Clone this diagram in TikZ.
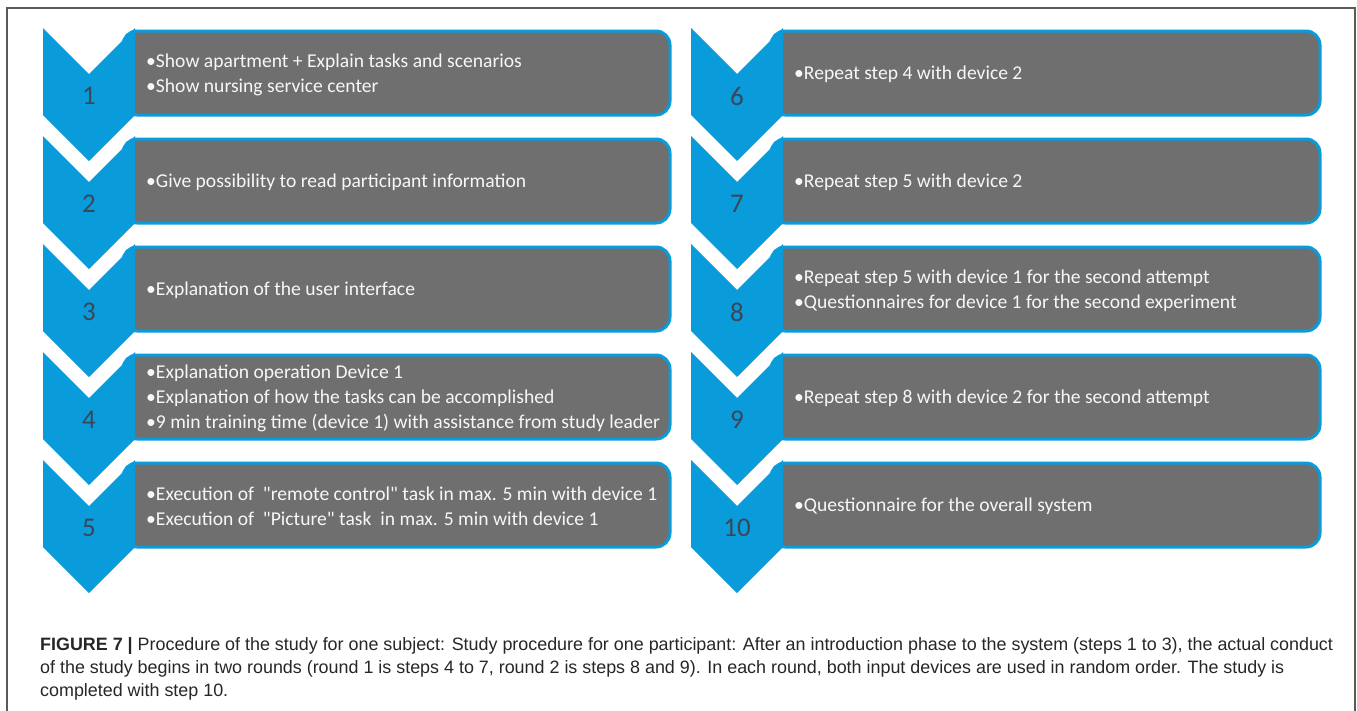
\documentclass[tikz,border=0pt]{standalone}
\usepackage{fontspec}
\setmainfont{Carlito}
\newfontfamily\capfont{Liberation Sans}
\definecolor{chev}{HTML}{0A9BDB}
\definecolor{boxgray}{HTML}{6F6F6F}
\definecolor{numcol}{HTML}{3B4656}
\definecolor{frame}{HTML}{5A5A5A}
\newcommand\qd{\textquotedbl}
\tikzset{
  chevshape/.style={fill=chev, draw=none},
  stepbox/.style={fill=boxgray, draw=chev, line width=3pt, rounded corners=14pt},
  steptext/.style={anchor=west, align=left, text=white!94!gray, inner sep=0pt,
     font=\fontsize{19.6}{25}\selectfont},
  stepnum/.style={text=numcol, inner sep=0pt, font=\fontsize{27}{27}\selectfont},
  captext/.style={anchor=north west, align=left, inner sep=0pt, text=black!85,
     font=\capfont\fontsize{17.9}{23}\selectfont}
}
% #1 column left x, #2 top y, #3 box right x, #4 number, #5 name, #6 text
\newcommand\drawstep[6]{%
  \path[stepbox] (#1+80,#2+3) rectangle (#3,#2+87);
  \path[chevshape] (#1,#2) -- (#1+46,#2+46) -- (#1+92,#2) -- (#1+92,#2+87)
     -- (#1+46,#2+133) -- (#1,#2+87) -- cycle;
  \node[stepnum] (n#5) at (#1+46,#2+68) {#4};
  \node[steptext] (t#5) at (#1+103,#2+46.5) {#6};
}
\begin{document}
\begin{tikzpicture}[x=1pt,y=-1pt]
\useasboundingbox (0,0) rectangle (1357,710);
\draw[frame, line width=1.3pt] (7,712) -- (7,8) -- (1355,8) -- (1355,712);
\drawstep{43}{28}{670}{1}{a}{\textbullet Show apartment + Explain tasks and scenarios\\\textbullet Show nursing service center}
\drawstep{43}{136}{670}{2}{b}{\textbullet Give possibility to read participant information}
\drawstep{43}{244}{670}{3}{c}{\textbullet Explanation of the user interface}
\drawstep{43}{352}{670}{4}{d}{\textbullet Explanation operation Device 1\\\textbullet Explanation of how the tasks can be accomplished\\\textbullet 9 min training time (device 1) with assistance from study leader}
\drawstep{43}{460}{670}{5}{e}{\textbullet Execution of \ \qd remote control\qd\ task in max. 5 min with device 1\\\textbullet Execution of \ \qd Picture\qd\ task \ in max. 5 min with device 1}
\drawstep{691}{28}{1320}{6}{f}{\textbullet Repeat step 4 with device 2}
\drawstep{691}{136}{1320}{7}{g}{\textbullet Repeat step 5 with device 2}
\drawstep{691}{244}{1320}{8}{h}{\textbullet Repeat step 5 with device 1 for the second attempt\\\textbullet Questionnaires for device 1 for the second experiment}
\drawstep{691}{352}{1320}{9}{i}{\textbullet Repeat step 8 with device 2 for the second attempt}
\drawstep{691}{460}{1320}{10}{j}{\textbullet Questionnaire for the overall system}
\node[captext] (cap) at (40,637) {\textbf{FIGURE 7 |} Procedure of the study for one subject: Study procedure for one participant: After an introduction phase to the system (steps 1 to 3), the actual conduct\\of the study begins in two rounds (round 1 is steps 4 to 7, round 2 is steps 8 and 9). In each round, both input devices are used in random order. The study is\\completed with step 10.};
\end{tikzpicture}
\end{document}
